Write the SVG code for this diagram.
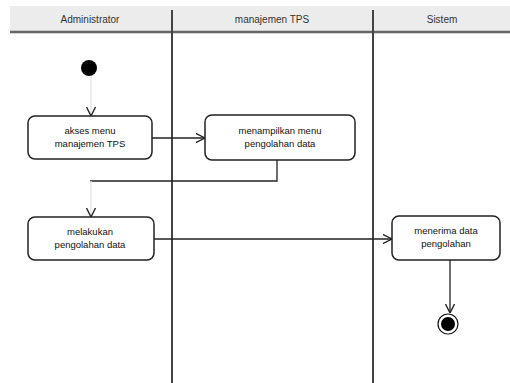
<svg xmlns="http://www.w3.org/2000/svg" width="510" height="383" viewBox="0 0 510 383">
<style>
.lane{stroke:#444;stroke-width:2;fill:none}
.hdr{font-family:"Liberation Sans",Arial,sans-serif;font-size:10px;fill:#333;text-anchor:middle}
.box{fill:#fff;stroke:#222;stroke-width:1.5}
.lbl{font-family:"Liberation Sans",Arial,sans-serif;font-size:9.5px;fill:#111;text-anchor:middle}
.con{stroke:#222;stroke-width:1.3;fill:none}
.faint{stroke:#e4e4e4}
</style>
<defs>
<marker id="arr" viewBox="0 0 10 10" refX="10" refY="5" markerWidth="7" markerHeight="7" orient="auto-start-reverse">
<path d="M0,0 L10,5 L0,10" fill="none" stroke="#222" stroke-width="1.5"/>
</marker>
</defs>
<rect x="0" y="0" width="510" height="383" fill="#fff"/>
<g id="header">
<rect x="10" y="6" width="500" height="26" fill="#ececec"/>
<line x1="10" y1="32" x2="510" y2="32" stroke="#666" stroke-width="2.5"/>
<text class="hdr" x="90" y="23">Administrator</text>
<text class="hdr" x="272" y="23">manajemen TPS</text>
<text class="hdr" x="442" y="23">Sistem</text>
</g>
<g id="lanes">
<line class="lane" x1="172" y1="10" x2="172" y2="383"/>
<line class="lane" x1="373" y1="10" x2="373" y2="383"/>
</g>
<g id="connectors">
<line class="con faint" x1="91" y1="77" x2="91" y2="116" marker-end="url(#arr)"/>
<line class="con" x1="152" y1="138" x2="205" y2="138" marker-end="url(#arr)"/>
<polyline class="con" points="277,160 277,181 90,181"/>
<line class="con faint" x1="91" y1="181" x2="91" y2="217" marker-end="url(#arr)"/>
<line class="con" x1="154" y1="239" x2="392" y2="239" marker-end="url(#arr)"/>
<line class="con" x1="450" y1="260" x2="450" y2="313" marker-end="url(#arr)"/>
</g>
<g id="start">
<circle cx="89" cy="68" r="8" fill="#000"/>
</g>
<g id="n1">
<rect class="box" x="28" y="116" width="124" height="43" rx="7"/>
<text class="lbl" x="90" y="134">akses menu</text>
<text class="lbl" x="90" y="147">manajemen TPS</text>
</g>
<g id="n2">
<rect class="box" x="205" y="115" width="150" height="45" rx="7"/>
<text class="lbl" x="280" y="134">menampilkan menu</text>
<text class="lbl" x="280" y="147">pengolahan data</text>
</g>
<g id="n3">
<rect class="box" x="28" y="217" width="126" height="43" rx="7"/>
<text class="lbl" x="90" y="235">melakukan</text>
<text class="lbl" x="90" y="248">pengolahan data</text>
</g>
<g id="n4">
<rect class="box" x="392" y="216" width="108" height="44" rx="7"/>
<text class="lbl" x="446" y="234">menerima data</text>
<text class="lbl" x="446" y="247">pengolahan</text>
</g>
<g id="end">
<circle cx="448" cy="324" r="10" fill="#fff" stroke="#111" stroke-width="1.2"/>
<circle cx="448" cy="324" r="7" fill="#000"/>
</g>
</svg>
